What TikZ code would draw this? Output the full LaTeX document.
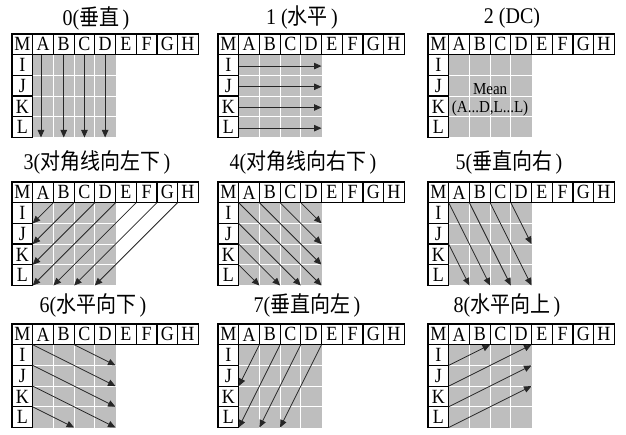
\documentclass[tikz,border=0pt]{standalone}
\usepackage{fontspec}
\setmainfont{Liberation Serif}
\newfontfamily\cjk{Noto Sans CJK SC}
\usepackage{graphicx}
\usetikzlibrary{arrows.meta}
\definecolor{cellgray}{RGB}{190,190,190}
\newcommand{\vs}[1]{\scalebox{1}[1.12]{#1}}
\tikzset{
  cellbox/.style={draw=black, line width=1.2pt},
  celltext/.style={inner sep=0pt, font=\fontsize{18}{18}\selectfont},
  arr/.style={draw=black!85, line width=0.8pt, -{Triangle[length=7.5pt,width=6.5pt]}},
  ttl/.style={inner sep=0pt, font=\fontsize{20}{20}\selectfont},
  meantext/.style={inner sep=0pt, font=\fontsize{15}{15}\selectfont}
}
% #1 = x of grid left, #2 = y of grid top, #3 = panel name, #4 = contents in grid units
\newcommand{\mypanel}[4]{%
  \begin{scope}[shift={(#1,#2+20.7)}, x=20.7pt, y=-20.7pt]
    \fill[cellgray] (1,0) rectangle (5,4);
    \draw[white, line width=0.9pt] (2,0)--(2,4) (3,0)--(3,4) (4,0)--(4,4)
      (1,1)--(5,1) (1,2)--(5,2) (1,3)--(5,3);
    \foreach \l [count=\i from 0] in {M,A,B,C,D,E,F,G,H} {
      \draw[cellbox] (\i,-1) rectangle (\i+1,0);
      \node[celltext] (#3-\l) at (\i+0.5,-0.5) {\vs{\l}};
    }
    \foreach \l [count=\i from 0] in {I,J,K,L} {
      \draw[cellbox] (0,\i) rectangle (1,\i+1);
      \node[celltext] (#3-\l) at (0.5,\i+0.5) {\vs{\l}};
    }
    #4
  \end{scope}}
\begin{document}
\begin{tikzpicture}[x=1pt, y=-1pt]
\useasboundingbox (0,0) rectangle (626,435);
\fill[white] (0,0) rectangle (626,435);

% titles
\node[ttl] (t0) at (96,18)  {\vs{0(\cjk 垂直\,\rmfamily)}};
\node[ttl] (t1) at (302,18) {\vs{1 (\cjk 水平\,\rmfamily)}};
\node[ttl] (t2) at (512,18) {\vs{2 (DC)}};
\node[ttl] (t3) at (97,162)  {\vs{3(\cjk 对角线向左下\,\rmfamily)}};
\node[ttl] (t4) at (303,162) {\vs{4(\cjk 对角线向右下\,\rmfamily)}};
\node[ttl] (t5) at (509,162) {\vs{5(\cjk 垂直向右\,\rmfamily)}};
\node[ttl] (t6) at (93,305)  {\vs{6(\cjk 水平向下\,\rmfamily)}};
\node[ttl] (t7) at (307,305) {\vs{7(\cjk 垂直向左\,\rmfamily)}};
\node[ttl] (t8) at (507,305) {\vs{8(\cjk 水平向上\,\rmfamily)}};

% 0 vertical
\mypanel{12}{34}{p0}{
  \foreach \c in {1.4,2.5,3.5,4.5} \draw[arr] (\c,0) -- (\c,4);
}
% 1 horizontal
\mypanel{218}{34}{p1}{
  \foreach \r in {0.55,1.55,2.55,3.55} \draw[arr] (1,\r) -- (5,\r);
}
% 2 DC
\mypanel{428}{34}{p2}{
  \node[meantext] (mean) at (3,1.65) {\vs{Mean}};
  \node[meantext] (meanarg) at (3,2.6) {\vs{(A...D,L...L)}};
}
% 3 diagonal down-left
\mypanel{12}{182}{p3}{
  \draw[arr] (2,0) -- (1,1);
  \draw[arr] (3,0) -- (1,2);
  \draw[arr] (4,0) -- (1,3);
  \draw[arr] (5,0) -- (1,4);
  \draw[arr] (6,0) -- (2,4);
  \draw[arr] (7,0) -- (3,4);
  \draw[arr] (8,0) -- (4,4);
}
% 4 diagonal down-right
\mypanel{218}{182}{p4}{
  \draw[arr] (1,0) -- (5,4);
  \draw[arr] (2,0) -- (5,3);
  \draw[arr] (3,0) -- (5,2);
  \draw[arr] (4,0) -- (5,1);
  \draw[arr] (1,1) -- (4,4);
  \draw[arr] (1,2) -- (3,4);
  \draw[arr] (1,3) -- (2,4);
}
% 5 vertical-right
\mypanel{428}{182}{p5}{
  \draw[arr] (1,0) -- (3,4);
  \draw[arr] (2,0) -- (4,4);
  \draw[arr] (3,0) -- (5,4);
  \draw[arr] (4,0) -- (5,2);
  \draw[arr] (1,2) -- (2,4);
}
% 6 horizontal-down
\mypanel{12}{324}{p6}{
  \draw[arr] (1,0) -- (5,2);
  \draw[arr] (3,0) -- (5,1);
  \draw[arr] (1,1) -- (5,3);
  \draw[arr] (1,2) -- (5,4);
  \draw[arr] (1,3) -- (3,4);
}
% 7 vertical-left
\mypanel{218}{324}{p7}{
  \draw[arr] (2,0) -- (1,2);
  \draw[arr] (3,0) -- (1,4);
  \draw[arr] (4,0) -- (2,4);
  \draw[arr] (5,0) -- (3,4);
}
% 8 horizontal-up
\mypanel{428}{324}{p8}{
  \draw[arr] (1,1) -- (3,0);
  \draw[arr] (1,2) -- (5,0);
  \draw[arr] (1,3) -- (5,1);
  \draw[arr] (1,4) -- (5,2);
}
\end{tikzpicture}
\end{document}
